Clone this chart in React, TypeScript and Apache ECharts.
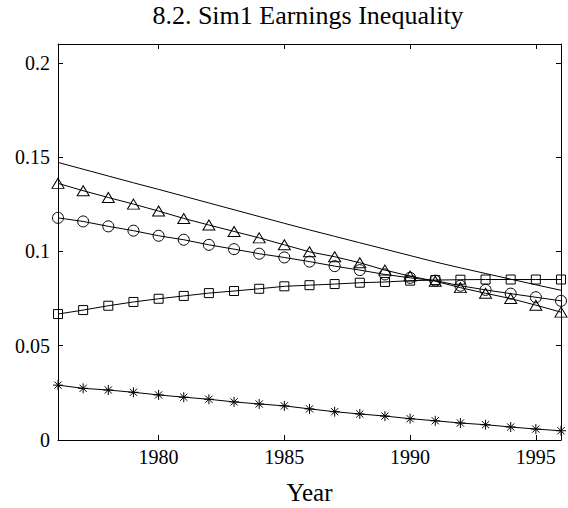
import React, { useEffect, useRef } from "react";
import * as echarts from "echarts";

const years = [1976, 1977, 1978, 1979, 1980, 1981, 1982, 1983, 1984, 1985, 1986, 1987, 1988, 1989, 1990, 1991, 1992, 1993, 1994, 1995, 1996];
const plainLine = [0.1472, 0.1436, 0.14, 0.1364, 0.1329, 0.1293, 0.1257, 0.1221, 0.1185, 0.1149, 0.1114, 0.108, 0.1046, 0.1012, 0.0978, 0.0944, 0.0913, 0.0883, 0.0853, 0.0823, 0.0794];
const triangleLine = [0.1361, 0.1322, 0.1286, 0.1251, 0.1214, 0.1175, 0.114, 0.1106, 0.1072, 0.1035, 0.0998, 0.0972, 0.094, 0.0901, 0.0869, 0.0842, 0.0808, 0.0778, 0.075, 0.0715, 0.0678];
const circleLine = [0.1178, 0.1159, 0.1133, 0.111, 0.1083, 0.1062, 0.1035, 0.1012, 0.0988, 0.0968, 0.0946, 0.0922, 0.0901, 0.0878, 0.086, 0.0845, 0.0818, 0.0796, 0.0776, 0.0757, 0.0738];
const squareLine = [0.0668, 0.0689, 0.0712, 0.0732, 0.0749, 0.0764, 0.0779, 0.079, 0.0802, 0.0815, 0.0821, 0.0827, 0.0834, 0.0838, 0.0845, 0.0848, 0.085, 0.0851, 0.0851, 0.0851, 0.0851];
const starLine = [0.0291, 0.0274, 0.0265, 0.0253, 0.0239, 0.0227, 0.0216, 0.0202, 0.0191, 0.0181, 0.0165, 0.015, 0.0138, 0.0127, 0.0113, 0.0102, 0.009, 0.0081, 0.0069, 0.0058, 0.0049];
const xTicks = [1980, 1985, 1990, 1995];
const yTicks = [0, 0.05, 0.1, 0.15, 0.2];
const titleText = "8.2. Sim1 Earnings Inequality";
const xName = "Year";

const FONT = "Liberation Serif";
const STAR = "path://M0,-5L0,5M-5,0L5,0M-3.6,-3.6L3.6,3.6M-3.6,3.6L3.6,-3.6";

export default function App() {
  const ref = useRef<HTMLDivElement>(null);
  useEffect(() => {
    if (!ref.current) return;
    const chart = echarts.init(ref.current, null, { renderer: "svg" });
    const pair = (vals: number[]) => years.map((y, i) => [y, vals[i]]);
    const lineBase = (name: string, vals: number[], symbol: string, size: any) => ({
      name,
      type: "line",
      data: pair(vals),
      symbol,
      symbolSize: size,
      showSymbol: symbol !== "none",
      lineStyle: { color: "#000", width: 1 },
      itemStyle: { color: "rgba(0,0,0,0)", borderColor: "#000", borderWidth: 1 },
      emphasis: { disabled: true },
      z: 3,
    });
    const axisCommon = {
      axisLine: { show: true, onZero: false, lineStyle: { color: "#000", width: 1 } },
      splitLine: { show: false },
    };
    const labelStyle = {
      color: "#000",
      fontFamily: FONT,
      fontSize: 20,
    };
    chart.setOption({
      animation: false,
      backgroundColor: "#fff",
      textStyle: { fontFamily: FONT, fontSize: 20, color: "#000" },
      grid: { left: 58, right: 7, top: 44, bottom: 68, containLabel: false, outerBoundsMode: "none" },
      graphic: [
        {
          type: "text",
          x: 308,
          y: 15.5,
          style: {
            text: titleText,
            fontFamily: FONT,
            fontSize: 26,
            fill: "#000",
            textAlign: "center",
            textVerticalAlign: "middle",
          },
        },
      ],
      xAxis: [
        {
          type: "value",
          min: 1976,
          max: 1996,
          position: "bottom",
          ...axisCommon,
          axisTick: { show: true, inside: true, length: 5, lineStyle: { color: "#000" }, customValues: xTicks },
          axisLabel: {
            show: true,
            ...labelStyle,
            margin: 7,
            customValues: xTicks,
            formatter: (v: number) => String(v),
          },
          name: xName,
          nameLocation: "middle",
          nameGap: 40,
          nameTextStyle: { color: "#000", fontFamily: FONT, fontSize: 25 },
        },
        {
          type: "value",
          min: 1976,
          max: 1996,
          position: "top",
          ...axisCommon,
          axisTick: { show: true, inside: true, length: 5, lineStyle: { color: "#000" }, customValues: xTicks },
          axisLabel: { show: false },
        },
      ],
      yAxis: [
        {
          type: "value",
          min: 0,
          max: 0.21,
          position: "left",
          ...axisCommon,
          axisTick: { show: true, inside: true, length: 5, lineStyle: { color: "#000" }, customValues: yTicks },
          axisLabel: {
            show: true,
            ...labelStyle,
            margin: 8,
            customValues: yTicks,
            formatter: (v: number) => String(Math.round(v * 100) / 100),
          },
        },
        {
          type: "value",
          min: 0,
          max: 0.21,
          position: "right",
          ...axisCommon,
          axisTick: { show: true, inside: true, length: 5, lineStyle: { color: "#000" }, customValues: yTicks },
          axisLabel: { show: false },
        },
      ],
      series: [
        lineBase("plain", plainLine, "none", 0),
        lineBase("triangle", triangleLine, "triangle", [12, 10]),
        lineBase("circle", circleLine, "circle", 11),
        lineBase("square", squareLine, "rect", 9),
        lineBase("star", starLine, STAR, 10),
      ],
    });
    return () => chart.dispose();
  }, []);
  return <div ref={ref} style={{ position: "fixed", left: 0, top: 0, width: 568, height: 508 }} />;
}
